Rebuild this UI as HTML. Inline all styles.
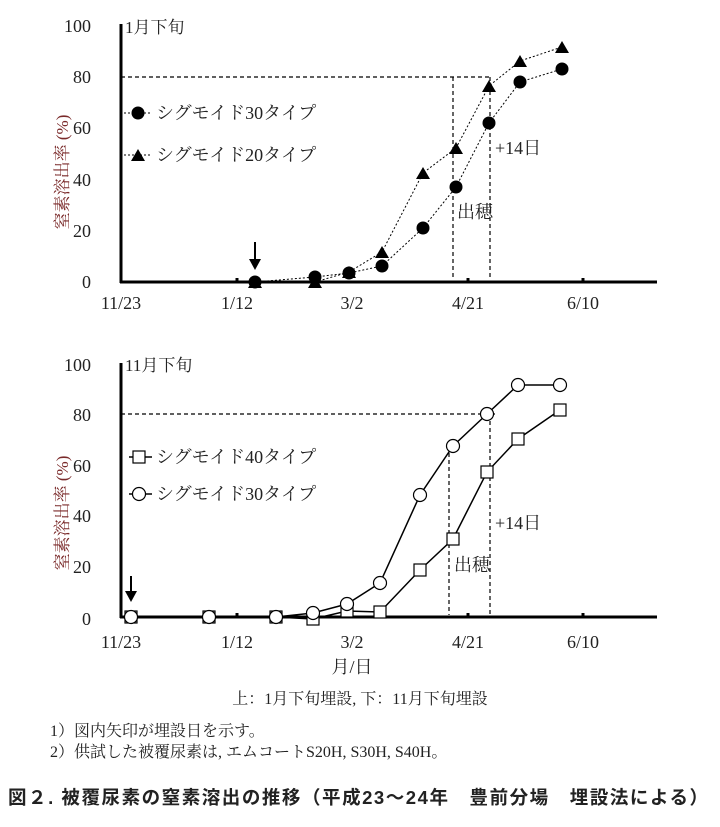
<!DOCTYPE html>
<html><head><meta charset="utf-8"><style>
body{margin:0;background:#fff;}
svg{display:block;}
.s{font-family:"Liberation Serif","Noto Serif CJK SC",serif;font-size:16px;fill:#222;}
.t{font-family:"Liberation Serif","Noto Serif CJK SC",serif;font-size:18px;fill:#222;}
.c{font-family:"Liberation Sans","Noto Sans CJK JP",sans-serif;font-weight:bold;font-size:18.5px;fill:#222;}
</style></head><body>
<svg width="720" height="827" viewBox="0 0 720 827">
<!-- TOP CHART -->
<g>
<line x1="121" y1="24" x2="121" y2="283" stroke="#000" stroke-width="3"/>
<line x1="120" y1="282" x2="657" y2="282" stroke="#000" stroke-width="3"/>
<g stroke="#000" stroke-width="3"><line x1="237" y1="278" x2="237" y2="282"/><line x1="468" y1="278" x2="468" y2="282"/><line x1="583" y1="278" x2="583" y2="282"/></g>
<g class="t" text-anchor="end"><text x="91" y="288">0</text><text x="91" y="237">20</text><text x="91" y="186">40</text><text x="91" y="134">60</text><text x="91" y="83">80</text><text x="91" y="32">100</text></g>
<g class="t" text-anchor="middle"><text x="121" y="309">11/23</text><text x="237" y="309">1/12</text><text x="352" y="309">3/2</text><text x="468" y="309">4/21</text><text x="583" y="309">6/10</text></g>
<text class="s" x="125" y="33" style="font-size:17px">1月下旬</text>
<text class="t" x="0" y="0" transform="translate(68,172) rotate(-90)" text-anchor="middle" style="fill:#7a2a2a;font-size:17px">窒素溶出率 (%)</text>
<g stroke="#000" stroke-width="1.2" stroke-dasharray="4,3" fill="none">
<line x1="121" y1="77" x2="490" y2="77"/><line x1="453" y1="77" x2="453" y2="280"/><line x1="490" y1="77" x2="490" y2="280"/>
</g>
<g stroke="#000" stroke-width="1" stroke-dasharray="2,2" fill="none">
<polyline points="255,282 315,277 349,273 382,266 423,228 456,187 489,123 520,82 562,69"/>
<polyline points="255,282 315,282 349,272 382,252 423,173 456,148 489,86 520,61 562,47"/>
<line x1="124" y1="113" x2="152" y2="113"/><line x1="124" y1="155" x2="152" y2="155"/>
</g>
<g fill="#000">
<circle cx="255" cy="282" r="6.5"/><circle cx="315" cy="277" r="6.5"/><circle cx="349" cy="273" r="6.5"/><circle cx="382" cy="266" r="6.5"/><circle cx="423" cy="228" r="6.5"/><circle cx="456" cy="187" r="6.5"/><circle cx="489" cy="123" r="6.5"/><circle cx="520" cy="82" r="6.5"/><circle cx="562" cy="69" r="6.5"/>
<circle cx="138" cy="113" r="6.5"/>
<path d="M255,276l7,12h-14z M315,276l7,12h-14z M349,266l7,12h-14z M382,246l7,12h-14z M423,167l7,12h-14z M456,142l7,12h-14z M489,80l7,12h-14z M520,55l7,12h-14z M562,41l7,12h-14z M138,149l7,12h-14z"/>
</g>
<text class="t" x="156" y="119">シグモイド30タイプ</text>
<text class="t" x="156" y="161">シグモイド20タイプ</text>
<text class="t" x="495" y="154">+14日</text>
<text class="t" x="457" y="218">出穂</text>
<line x1="255" y1="242" x2="255" y2="262" stroke="#000" stroke-width="2"/><path d="M249,259l6,11l6,-11z" fill="#000"/>
</g>
<!-- BOTTOM CHART -->
<g>
<line x1="121" y1="363" x2="121" y2="618" stroke="#000" stroke-width="3"/>
<line x1="120" y1="617" x2="657" y2="617" stroke="#000" stroke-width="3"/>
<g stroke="#000" stroke-width="3"><line x1="237" y1="613" x2="237" y2="617"/><line x1="468" y1="613" x2="468" y2="617"/><line x1="583" y1="613" x2="583" y2="617"/></g>
<g class="t" text-anchor="end"><text x="91" y="625">0</text><text x="91" y="573">20</text><text x="91" y="522">40</text><text x="91" y="472">60</text><text x="91" y="421">80</text><text x="91" y="371">100</text></g>
<g class="t" text-anchor="middle"><text x="121" y="648">11/23</text><text x="237" y="648">1/12</text><text x="352" y="648">3/2</text><text x="468" y="648">4/21</text><text x="583" y="648">6/10</text></g>
<text class="s" x="125" y="371" style="font-size:17px">11月下旬</text>
<text class="t" x="0" y="0" transform="translate(68,513) rotate(-90)" text-anchor="middle" style="fill:#7a2a2a;font-size:17px">窒素溶出率 (%)</text>
<g stroke="#000" stroke-width="1.2" stroke-dasharray="4,3" fill="none">
<line x1="121" y1="414" x2="495" y2="414"/><line x1="449" y1="446" x2="449" y2="615"/><line x1="490" y1="414" x2="490" y2="615"/>
</g>
<g stroke="#000" stroke-width="1.5" fill="none">
<polyline points="131,617 209,617 276,617 313,613 347,604 380,583 420,495 453,446 487,414 518,385 560,385"/>
<polyline points="131,617 209,617 276,617 313,619 347,611 380,612 420,570 453,539 487,472 518,439 560,410"/>
<line x1="129" y1="457" x2="152" y2="457"/><line x1="129" y1="494" x2="152" y2="494"/>
</g>
<g fill="#fff" stroke="#000" stroke-width="1.2">
<rect x="125" y="611" width="12" height="12"/><rect x="203" y="611" width="12" height="12"/><rect x="270" y="611" width="12" height="12"/><rect x="307" y="613" width="12" height="12"/><rect x="341" y="605" width="12" height="12"/><rect x="374" y="606" width="12" height="12"/><rect x="414" y="564" width="12" height="12"/><rect x="447" y="533" width="12" height="12"/><rect x="481" y="466" width="12" height="12"/><rect x="512" y="433" width="12" height="12"/><rect x="554" y="404" width="12" height="12"/>
<rect x="133" y="451" width="12" height="12"/>
<circle cx="131" cy="617" r="6.5"/><circle cx="209" cy="617" r="6.5"/><circle cx="276" cy="617" r="6.5"/><circle cx="313" cy="613" r="6.5"/><circle cx="347" cy="604" r="6.5"/><circle cx="380" cy="583" r="6.5"/><circle cx="420" cy="495" r="6.5"/><circle cx="453" cy="446" r="6.5"/><circle cx="487" cy="414" r="6.5"/><circle cx="518" cy="385" r="6.5"/><circle cx="560" cy="385" r="6.5"/>
<circle cx="139" cy="494" r="6.5"/>
</g>
<text class="t" x="156" y="463">シグモイド40タイプ</text>
<text class="t" x="156" y="500">シグモイド30タイプ</text>
<text class="t" x="495" y="529">+14日</text>
<text class="t" x="454" y="571">出穂</text>
<line x1="131" y1="576" x2="131" y2="594" stroke="#000" stroke-width="2"/><path d="M125,591l6,11l6,-11z" fill="#000"/>
</g>
<text class="t" x="352" y="673" text-anchor="middle">月/日</text>
<text class="s" x="360" y="704" text-anchor="middle">上：1月下旬埋設, 下：11月下旬埋設</text>
<text class="s" x="50" y="736">1）図内矢印が埋設日を示す。</text>
<text class="s" x="50" y="757">2）供試した被覆尿素は, エムコートS20H, S30H, S40H。</text>
<text class="c" x="8" y="804" textLength="700">図２. 被覆尿素の窒素溶出の推移（平成23～24年　豊前分場　埋設法による）</text>
</svg>
</body></html>
